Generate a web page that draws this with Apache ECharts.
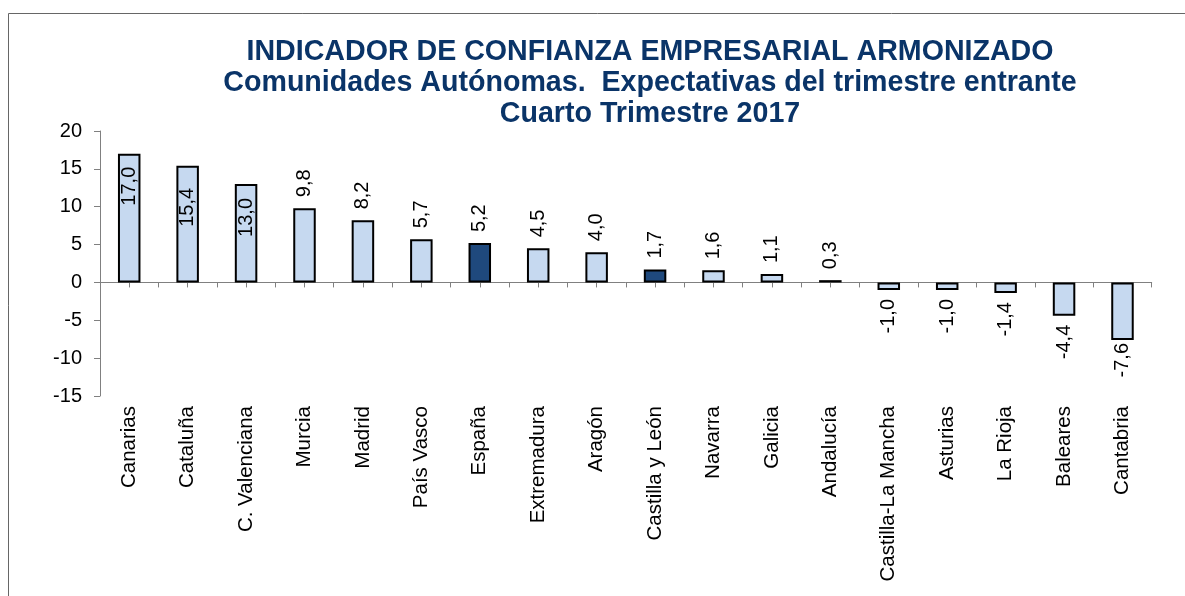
<!DOCTYPE html>
<html>
<head>
<meta charset="utf-8">
<script src="https://cdn.jsdelivr.net/npm/echarts@6/dist/echarts.min.js"></script>
<style>
html,body{margin:0;padding:0;background:#fff;}
#chart{width:1185px;height:596px;}
</style>
</head>
<body>
<div id="chart"></div>
<script>
const titleLines = [
  'INDICADOR DE CONFIANZA EMPRESARIAL ARMONIZADO',
  'Comunidades Autónomas.  Expectativas del trimestre entrante',
  'Cuarto Trimestre 2017'
];
const categories = ['Canarias', 'Cataluña', 'C. Valenciana', 'Murcia', 'Madrid', 'País Vasco', 'España',
  'Extremadura', 'Aragón', 'Castilla y León', 'Navarra', 'Galicia', 'Andalucía', 'Castilla-La Mancha',
  'Asturias', 'La Rioja', 'Baleares', 'Cantabria'];
const values = [17.0, 15.4, 13.0, 9.8, 8.2, 5.7, 5.2, 4.5, 4.0, 1.7, 1.6, 1.1, 0.3, -1.0, -1.0, -1.4, -4.4, -7.6];
const highlighted = ['España', 'Castilla y León', 'Andalucía'];
const yMin = -15, yMax = 20, yStep = 5;

// label placement (style, not data)
const insideLabels = ['Canarias', 'Cataluña', 'C. Valenciana'];
const labelDistance = [13, 22, 14, 11, 11, 11, 11, 11, 11, 11, 11, 11, 11, 9, 9, 9, 9, 3];

const FONT = 'Liberation Sans, Arial, sans-serif';
const lightFill = '#C6D9F0';
const darkFill = '#1F497D';

const barData = values.map((v, i) => {
  const name = categories[i];
  let label;
  if (insideLabels.includes(name)) {
    label = { position: 'insideTop', distance: labelDistance[i], align: 'right', verticalAlign: 'middle' };
  } else if (v >= 0) {
    label = { position: 'top', distance: labelDistance[i], align: 'left', verticalAlign: 'middle' };
  } else {
    label = { position: 'bottom', distance: labelDistance[i], align: 'right', verticalAlign: 'middle' };
  }
  return {
    value: v,
    itemStyle: { color: highlighted.includes(name) ? darkFill : lightFill },
    label: label
  };
});

const chart = echarts.init(document.getElementById('chart'));
chart.setOption({
  backgroundColor: '#ffffff',
  animation: false,
  graphic: [{
    type: 'rect',
    shape: { x: 8.5, y: 13.5, width: 1300, height: 800 },
    style: { fill: 'none', stroke: '#666666', lineWidth: 1 },
    silent: true, z: -10
  }],
  title: {
    text: titleLines.join('\n'),
    left: 650,
    top: 37,
    textAlign: 'center',
    padding: 0,
    textStyle: {
      fontFamily: FONT, fontSize: 28.6, fontWeight: 'bold', color: '#0A3468', lineHeight: 31
    }
  },
  grid: { left: 100, right: 33.3, top: 131, bottom: 200, containLabel: false },
  xAxis: [{
    type: 'category',
    data: categories,
    position: 'bottom',
    axisLine: { show: false, onZero: false },
    axisTick: { show: false },
    axisLabel: {
      rotate: 90, interval: 0, margin: 10,
      fontFamily: FONT, fontSize: 20.5, color: '#000000'
    }
  }, {
    type: 'category',
    data: categories.flatMap(() => ['', '']),
    position: 'bottom',
    axisLine: { show: true, onZero: true, lineStyle: { color: '#808080', width: 1 } },
    axisTick: { show: true, interval: 0, length: 5, lineStyle: { color: '#808080', width: 1 } },
    axisLabel: { show: false },
    splitLine: { show: false }
  }],
  yAxis: {
    type: 'value',
    min: yMin, max: yMax, interval: yStep,
    axisLine: { show: true, lineStyle: { color: '#808080', width: 1 } },
    axisTick: { show: true, length: 6, lineStyle: { color: '#808080', width: 1 } },
    splitLine: { show: false },
    axisLabel: { margin: 18, fontFamily: FONT, fontSize: 20, color: '#000000' }
  },
  series: [{
    type: 'bar',
    xAxisIndex: 0,
    barWidth: 22.5,
    data: barData,
    itemStyle: { borderColor: '#000000', borderWidth: 2 },
    label: {
      show: true,
      rotate: 90,
      fontFamily: FONT, fontSize: 20, color: '#000000',
      formatter: p => p.value.toFixed(1).replace('.', ',')
    }
  }]
});
</script>
</body>
</html>
